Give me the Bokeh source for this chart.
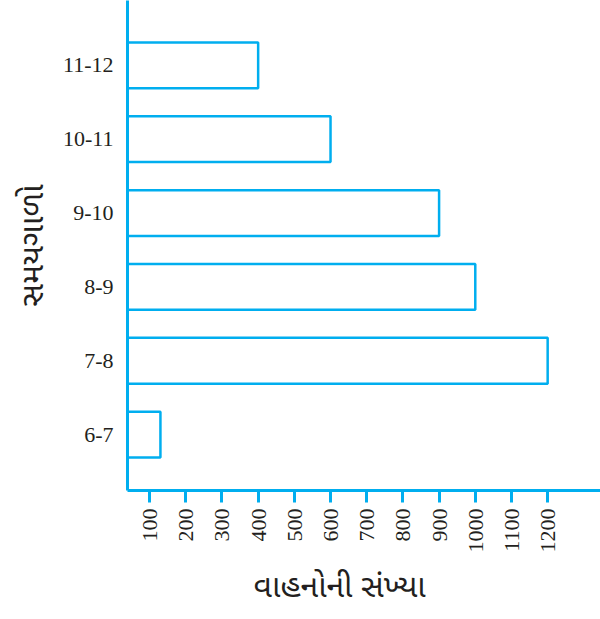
import math
from bokeh.plotting import figure
from bokeh.models import Range1d, FixedTicker, Title
from bokeh.embed import file_html
from bokeh.resources import INLINE

# ---- data ----
periods = ["6-7", "7-8", "8-9", "9-10", "10-11", "11-12"]
vehicles = [130, 1200, 1000, 900, 600, 400]
x_ticks = [100, 200, 300, 400, 500, 600, 700, 800, 900, 1000, 1100, 1200]
x_label = "વાહનોની સંખ્યા"
y_label = "સમયગાળો"

# ---- style ----
CYAN = "#00AEEF"
INK = "#231F20"
X_START, X_END = 39, 1346
GUJ_FONT = "Noto Sans Gujarati, Noto Serif Gujarati, Lohit Gujarati, sans-serif"

positions = list(range(len(periods)))

p = figure(width=600, height=619,
           x_range=Range1d(X_START, X_END),
           y_range=Range1d(-0.757, 5.878),
           output_backend="svg", toolbar_location=None,
           min_border_left=127, min_border_right=0,
           min_border_top=0, min_border_bottom=128)
p.outline_line_color = None
p.grid.visible = False

p.hbar(y=positions, left=X_START, right=vehicles, height=0.62,
       fill_color=None, line_color=CYAN, line_width=2.5)

# x axis
xa = p.xaxis[0]
xa.ticker = FixedTicker(ticks=x_ticks)
xa.major_label_overrides = {t: ("\u2007" + str(t) if t < 1000 else str(t)) for t in x_ticks}
xa.major_label_orientation = math.pi / 2
xa.axis_line_color = CYAN
xa.axis_line_width = 3
xa.major_tick_line_color = CYAN
xa.major_tick_line_width = 3
xa.major_tick_in = 0
xa.major_tick_out = 12
xa.minor_tick_line_color = None
xa.major_label_standoff = 6
xa.major_label_text_font = "Liberation Serif"
xa.major_label_text_font_size = "22px"
xa.major_label_text_color = INK

# x axis title (a title below the axis, so it can sit left of centre)
p.add_layout(Title(text=x_label, align="left", offset=126, standoff=20,
                   vertical_align="bottom",
                   text_font=GUJ_FONT, text_font_size="32px",
                   text_font_style="normal", text_color=INK), "below")

# y axis
ya = p.yaxis[0]
ya.ticker = FixedTicker(ticks=positions)
ya.major_label_overrides = {i: s for i, s in zip(positions, periods)}
ya.axis_line_color = CYAN
ya.axis_line_width = 3
ya.major_tick_line_color = None
ya.minor_tick_line_color = None
ya.major_label_standoff = 8
ya.major_label_text_font = "Liberation Serif"
ya.major_label_text_font_size = "22px"
ya.major_label_text_color = INK
ya.axis_label = y_label
ya.axis_label_text_font = GUJ_FONT
ya.axis_label_text_font_style = "normal"
ya.axis_label_text_font_size = "32px"
ya.axis_label_text_color = INK
ya.axis_label_standoff = 4

open("out.html", "w").write(file_html(p, INLINE))
